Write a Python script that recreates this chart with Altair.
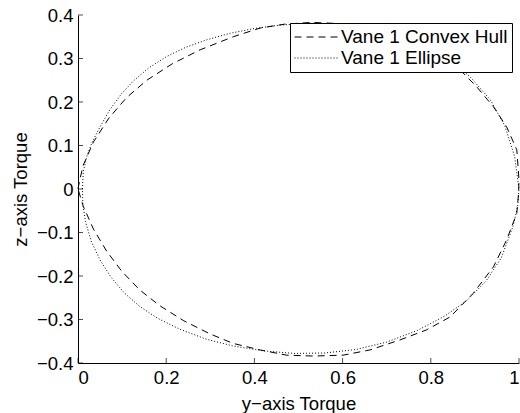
import altair as alt
import pandas as pd

# Torque envelope of vane 1: convex hull vertices (y-axis torque, z-axis torque)
hull_y_torque = [0.000, 0.004, 0.012, 0.035, 0.070, 0.110, 0.156, 0.214, 0.277, 0.352, 0.413,
                 0.469, 0.530, 0.600, 0.680, 0.750, 0.820, 0.873, 0.904, 0.942, 0.972, 0.995,
                 1.000, 0.999, 0.995, 0.972, 0.942, 0.896, 0.844, 0.790, 0.730, 0.662, 0.601,
                 0.533, 0.473, 0.413, 0.352, 0.299, 0.240, 0.185, 0.140, 0.100, 0.065, 0.035,
                 0.012, 0.000]
hull_z_torque = [0.000, 0.021, 0.055, 0.108, 0.163, 0.210, 0.250, 0.288, 0.320, 0.350, 0.370,
                 0.379, 0.383, 0.380, 0.366, 0.342, 0.306, 0.267, 0.235, 0.189, 0.143, 0.090,
                 0.021, -0.010, -0.056, -0.117, -0.179, -0.240, -0.294, -0.324, -0.347, -0.370,
                 -0.382, -0.384, -0.382, -0.370, -0.355, -0.333, -0.303, -0.268, -0.232,
                 -0.190, -0.143, -0.092, -0.040, 0.000]

# Fitted ellipse outline
ell_y_torque = [0.010, 0.012, 0.020, 0.032, 0.050, 0.072, 0.098, 0.125, 0.160, 0.200, 0.245,
                0.292, 0.345, 0.400, 0.460, 0.530, 0.610, 0.690, 0.770, 0.840, 0.890, 0.935,
                0.968, 0.990, 1.000, 0.997, 0.986, 0.960, 0.925, 0.880, 0.830, 0.770, 0.700,
                0.630, 0.560, 0.490, 0.420, 0.352, 0.290, 0.230, 0.180, 0.140, 0.105, 0.075,
                0.050, 0.030, 0.017, 0.011, 0.010]
ell_z_torque = [0.000, 0.040, 0.075, 0.108, 0.143, 0.182, 0.218, 0.248, 0.278, 0.304, 0.326,
                0.343, 0.358, 0.369, 0.377, 0.381, 0.378, 0.364, 0.338, 0.300, 0.257, 0.205,
                0.145, 0.075, 0.000, -0.040, -0.087, -0.158, -0.212, -0.258, -0.293, -0.325,
                -0.352, -0.369, -0.377, -0.378, -0.372, -0.361, -0.345, -0.322, -0.297,
                -0.270, -0.239, -0.203, -0.163, -0.120, -0.075, -0.035, 0.000]

series_names = ["Vane 1 Convex Hull", "Vane 1 Ellipse"]
x_ticks = [0, 0.2, 0.4, 0.6, 0.8, 1]
y_ticks = [-0.4, -0.3, -0.2, -0.1, 0, 0.1, 0.2, 0.3, 0.4]

rows = []
for i, (a, b) in enumerate(zip(hull_y_torque, hull_z_torque)):
    rows.append({"yt": a, "zt": b, "series": series_names[0], "idx": i})
for i, (a, b) in enumerate(zip(ell_y_torque, ell_z_torque)):
    rows.append({"yt": a, "zt": b, "series": series_names[1], "idx": i})
curves_df = pd.DataFrame(rows)

xtick_df = pd.DataFrame({"yt": x_ticks, "zt": [y_ticks[0]] * len(x_ticks)})
ytick_df = pd.DataFrame({"zt": y_ticks, "yt": [x_ticks[0]] * len(y_ticks)})

FONT = "Liberation Sans"
xscale = alt.Scale(domain=[0, 1], nice=False, zero=False)
yscale = alt.Scale(domain=[-0.4, 0.4], nice=False, zero=False)

curves = alt.Chart(curves_df).mark_line(strokeWidth=1, color="black").encode(
    x=alt.X("yt:Q", scale=xscale,
            axis=alt.Axis(values=x_ticks, format="~g", title="y−axis Torque",
                          titlePadding=8)),
    y=alt.Y("zt:Q", scale=yscale,
            axis=alt.Axis(values=y_ticks, format="~g", title="z−axis Torque",
                          titlePadding=6)),
    strokeDash=alt.StrokeDash(
        "series:N",
        scale=alt.Scale(domain=series_names, range=[[7, 5], [1, 2]]),
        legend=alt.Legend(orient="none", legendX=212, legendY=8, title=None),
    ),
    order="idx:Q",
)

# inward-pointing tick marks along both axes
xticks = alt.Chart(xtick_df).mark_tick(
    orient="vertical", size=5, thickness=1, color="black", yOffset=-2.5
).encode(x=alt.X("yt:Q", scale=xscale), y=alt.Y("zt:Q", scale=yscale))

yticks = alt.Chart(ytick_df).mark_tick(
    orient="horizontal", size=5, thickness=1, color="black", xOffset=2.5
).encode(x=alt.X("yt:Q", scale=xscale), y=alt.Y("zt:Q", scale=yscale))

chart = alt.layer(curves, xticks, yticks).properties(
    width=441,
    height=348,
    autosize=alt.AutoSizeParams(type="none"),
    padding={"left": 78, "top": 15, "right": 1, "bottom": 50},
).configure_view(stroke=None).configure_axis(
    grid=False,
    domainColor="black",
    domainWidth=1,
    tickSize=0,
    labelFont=FONT,
    labelFontSize=18.5,
    labelColor="black",
    labelPadding=5,
    titleFont=FONT,
    titleFontSize=18.5,
    titleFontWeight="normal",
    titleColor="black",
).configure_legend(
    strokeColor="black",
    fillColor="white",
    padding=4,
    cornerRadius=0,
    symbolType="stroke",
    symbolSize=1936,
    symbolStrokeWidth=1,
    symbolStrokeColor="black",
    labelFont=FONT,
    labelFontSize=19,
    labelColor="black",
    labelOffset=2,
    labelLimit=400,
    clipHeight=20,
    rowPadding=1,
)

chart.save("out.html", embed_options={"renderer": "svg", "actions": False})
